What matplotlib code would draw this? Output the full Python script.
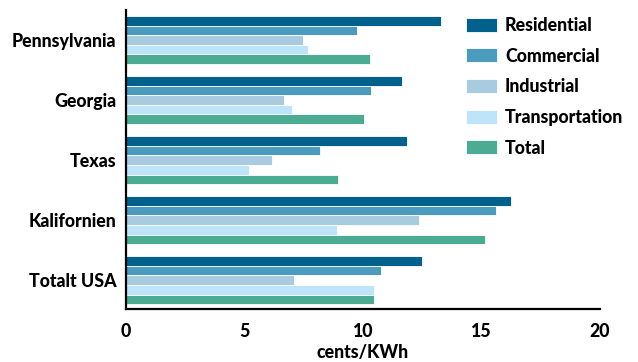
import matplotlib
matplotlib.use('Agg')
import matplotlib.pyplot as plt
import numpy as np

# Electricity prices by sector, cents/KWh
states = ['Pennsylvania', 'Georgia', 'Texas', 'Kalifornien', 'Totalt USA']
sectors = ['Residential', 'Commercial', 'Industrial', 'Transportation', 'Total']

residential = [13.3, 11.65, 11.85, 16.25, 12.5]
commercial = [9.75, 10.35, 8.2, 15.6, 10.75]
industrial = [7.45, 6.65, 6.15, 12.35, 7.1]
transportation = [7.7, 7.0, 5.2, 8.9, 10.45]
total = [10.3, 10.05, 8.95, 15.15, 10.45]

colors = ['#00628c', '#4a9bbe', '#a8cbe0', '#bde4f8', '#4bab93']

plt.rcParams['font.family'] = ['Lato', 'DejaVu Sans']
plt.rcParams['font.weight'] = 'black'
fs = 12.8

fig = plt.figure(figsize=(6.38, 3.62), dpi=100)
ax = fig.add_axes([0.1975, 0.1464, 0.7429, 0.826])

series = [residential, commercial, industrial, transportation, total]
n = len(states)
y = np.arange(n)[::-1]          # first state at the top
h = 0.16

for i, (vals, lab, col) in enumerate(zip(series, sectors, colors)):
    ax.barh(y + (2 - i) * h, vals, height=h, color=col, label=lab,
            edgecolor='white', linewidth=0.6)

ax.set_xlim(0, 20)
ax.set_ylim(-0.48, 4.5)
ax.set_xticks([0, 5, 10, 15, 20])
ax.set_yticks(y)
ax.set_yticklabels(states)
ax.tick_params(axis='both', length=0, labelsize=fs)
ax.tick_params(axis='x', pad=10)
ax.tick_params(axis='y', pad=7)
for lbl in ax.get_xticklabels() + ax.get_yticklabels():
    lbl.set_fontweight('black')

for s in ['top', 'right']:
    ax.spines[s].set_visible(False)
for s in ['left', 'bottom']:
    ax.spines[s].set_linewidth(1.6)

ax.set_xlabel('cents/KWh', fontsize=fs, fontweight='black', labelpad=3)

ax.legend(loc='upper left', bbox_to_anchor=(0.717, 0.978),
          bbox_transform=fig.transFigure, frameon=False,
          prop={'size': fs, 'weight': 'black'},
          handlelength=1.7, handleheight=0.83, handletextpad=0.48,
          labelspacing=0.77, borderpad=0)

fig.savefig('out.png', dpi=100)
